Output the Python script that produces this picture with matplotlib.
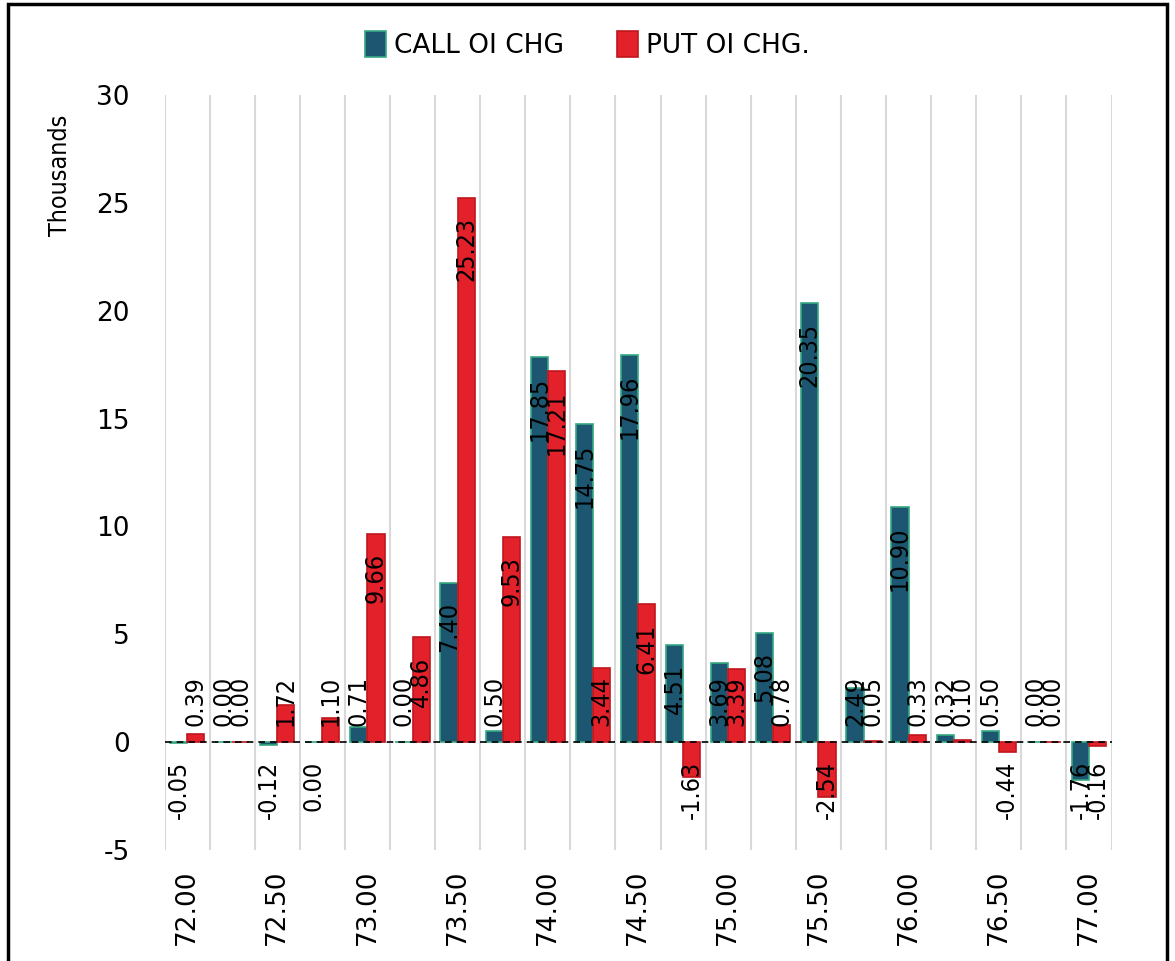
import numpy as np
import matplotlib.pyplot as plt
from matplotlib.patches import Rectangle

plt.rcParams["axes.unicode_minus"] = False

# strike prices (every 0.25)
strikes = ["72.00", "72.25", "72.50", "72.75", "73.00", "73.25", "73.50", "73.75",
           "74.00", "74.25", "74.50", "74.75", "75.00", "75.25", "75.50", "75.75",
           "76.00", "76.25", "76.50", "76.75", "77.00"]

# OI change, thousands
call_oi_chg = [-0.05, 0.00, -0.12, -0.004, 0.71, 0.00, 7.40, 0.50, 17.85, 14.75, 17.96,
               4.51, 3.69, 5.08, 20.35, 2.49, 10.90, 0.32, 0.50, 0.00, -1.76]
put_oi_chg = [0.39, 0.00, 1.72, 1.10, 9.66, 4.86, 25.23, 9.53, 17.21, 3.44, 6.41,
              -1.63, 3.39, 0.78, -2.54, 0.05, 0.33, 0.10, -0.44, 0.00, -0.16]

label_font = ["DejaVu Sans"]

fig = plt.figure(figsize=(11.75, 9.61), dpi=100)
ax = fig.add_axes([0.140, 0.1155, 0.806, 0.7855])

x = np.arange(len(strikes))
w = 0.38
call_bars = ax.bar(x - 0.19, call_oi_chg, w, color="#1d5670", edgecolor="#35a883",
                   linewidth=1.2, label="CALL OI CHG", zorder=3)
put_bars = ax.bar(x + 0.19, put_oi_chg, w, color="#e3212a", edgecolor="#c0161d",
                  linewidth=1.2, label="PUT OI CHG.", zorder=3)

ax.set_ylim(-5, 30)
ax.set_xlim(-0.5, len(strikes) - 0.5)
ax.set_yticks(range(-5, 31, 5))
ax.tick_params(axis="y", length=0, labelsize=19, pad=25)
ax.set_xticks(x[::2])
ax.set_xticklabels(strikes[::2], rotation=90, fontsize=19)
ax.tick_params(axis="x", length=0, pad=14)

# vertical grid at category boundaries
for b in np.arange(-0.5, len(strikes), 1.0):
    ax.axvline(b, color="#d9d9d9", linewidth=1.5, zorder=1)
ax.axhline(0, color="black", linestyle="--", linewidth=1.2, dashes=(4, 3), zorder=4)
for s in ax.spines.values():
    s.set_visible(False)

# data labels (Excel "inside end" style)
def add_labels(bars, values):
    for rect, v in zip(bars, values):
        txt = f"{v:.2f}".replace("-0.00", "0.00")
        cx = rect.get_x() + rect.get_width() / 2
        length = 0.55 * len(txt)
        kw = dict(rotation=90, ha="center", fontsize=18, family=label_font,
                  fontstretch="condensed", zorder=5)
        if v < 0:
            ax.text(cx, -0.85, txt, va="top", **kw)
        elif v - 0.9 - length >= 0.75:
            ax.text(cx, v - 0.9, txt, va="top", **kw)
        else:
            ax.text(cx, 0.75, txt, va="bottom", **kw)

add_labels(call_bars, call_oi_chg)
add_labels(put_bars, put_oi_chg)

fig.text(60 / 1175, 1 - 175 / 961, "Thousands", rotation=90, ha="center", va="center",
         fontsize=18, family=label_font, fontstretch="condensed")

fig.legend(handles=[call_bars, put_bars], loc="center", bbox_to_anchor=(0.5, 1 - 45 / 961),
           ncol=2, frameon=False, prop={"family": label_font, "size": 19},
           handlelength=0.8, handleheight=1.1, columnspacing=2.0, handletextpad=0.3)

# outer chart border
fig.patches.append(Rectangle((0.007, -0.01), 0.986, 1.006, transform=fig.transFigure,
                             fill=False, edgecolor="black", linewidth=2.5))

fig.savefig("out.png", dpi=100)
